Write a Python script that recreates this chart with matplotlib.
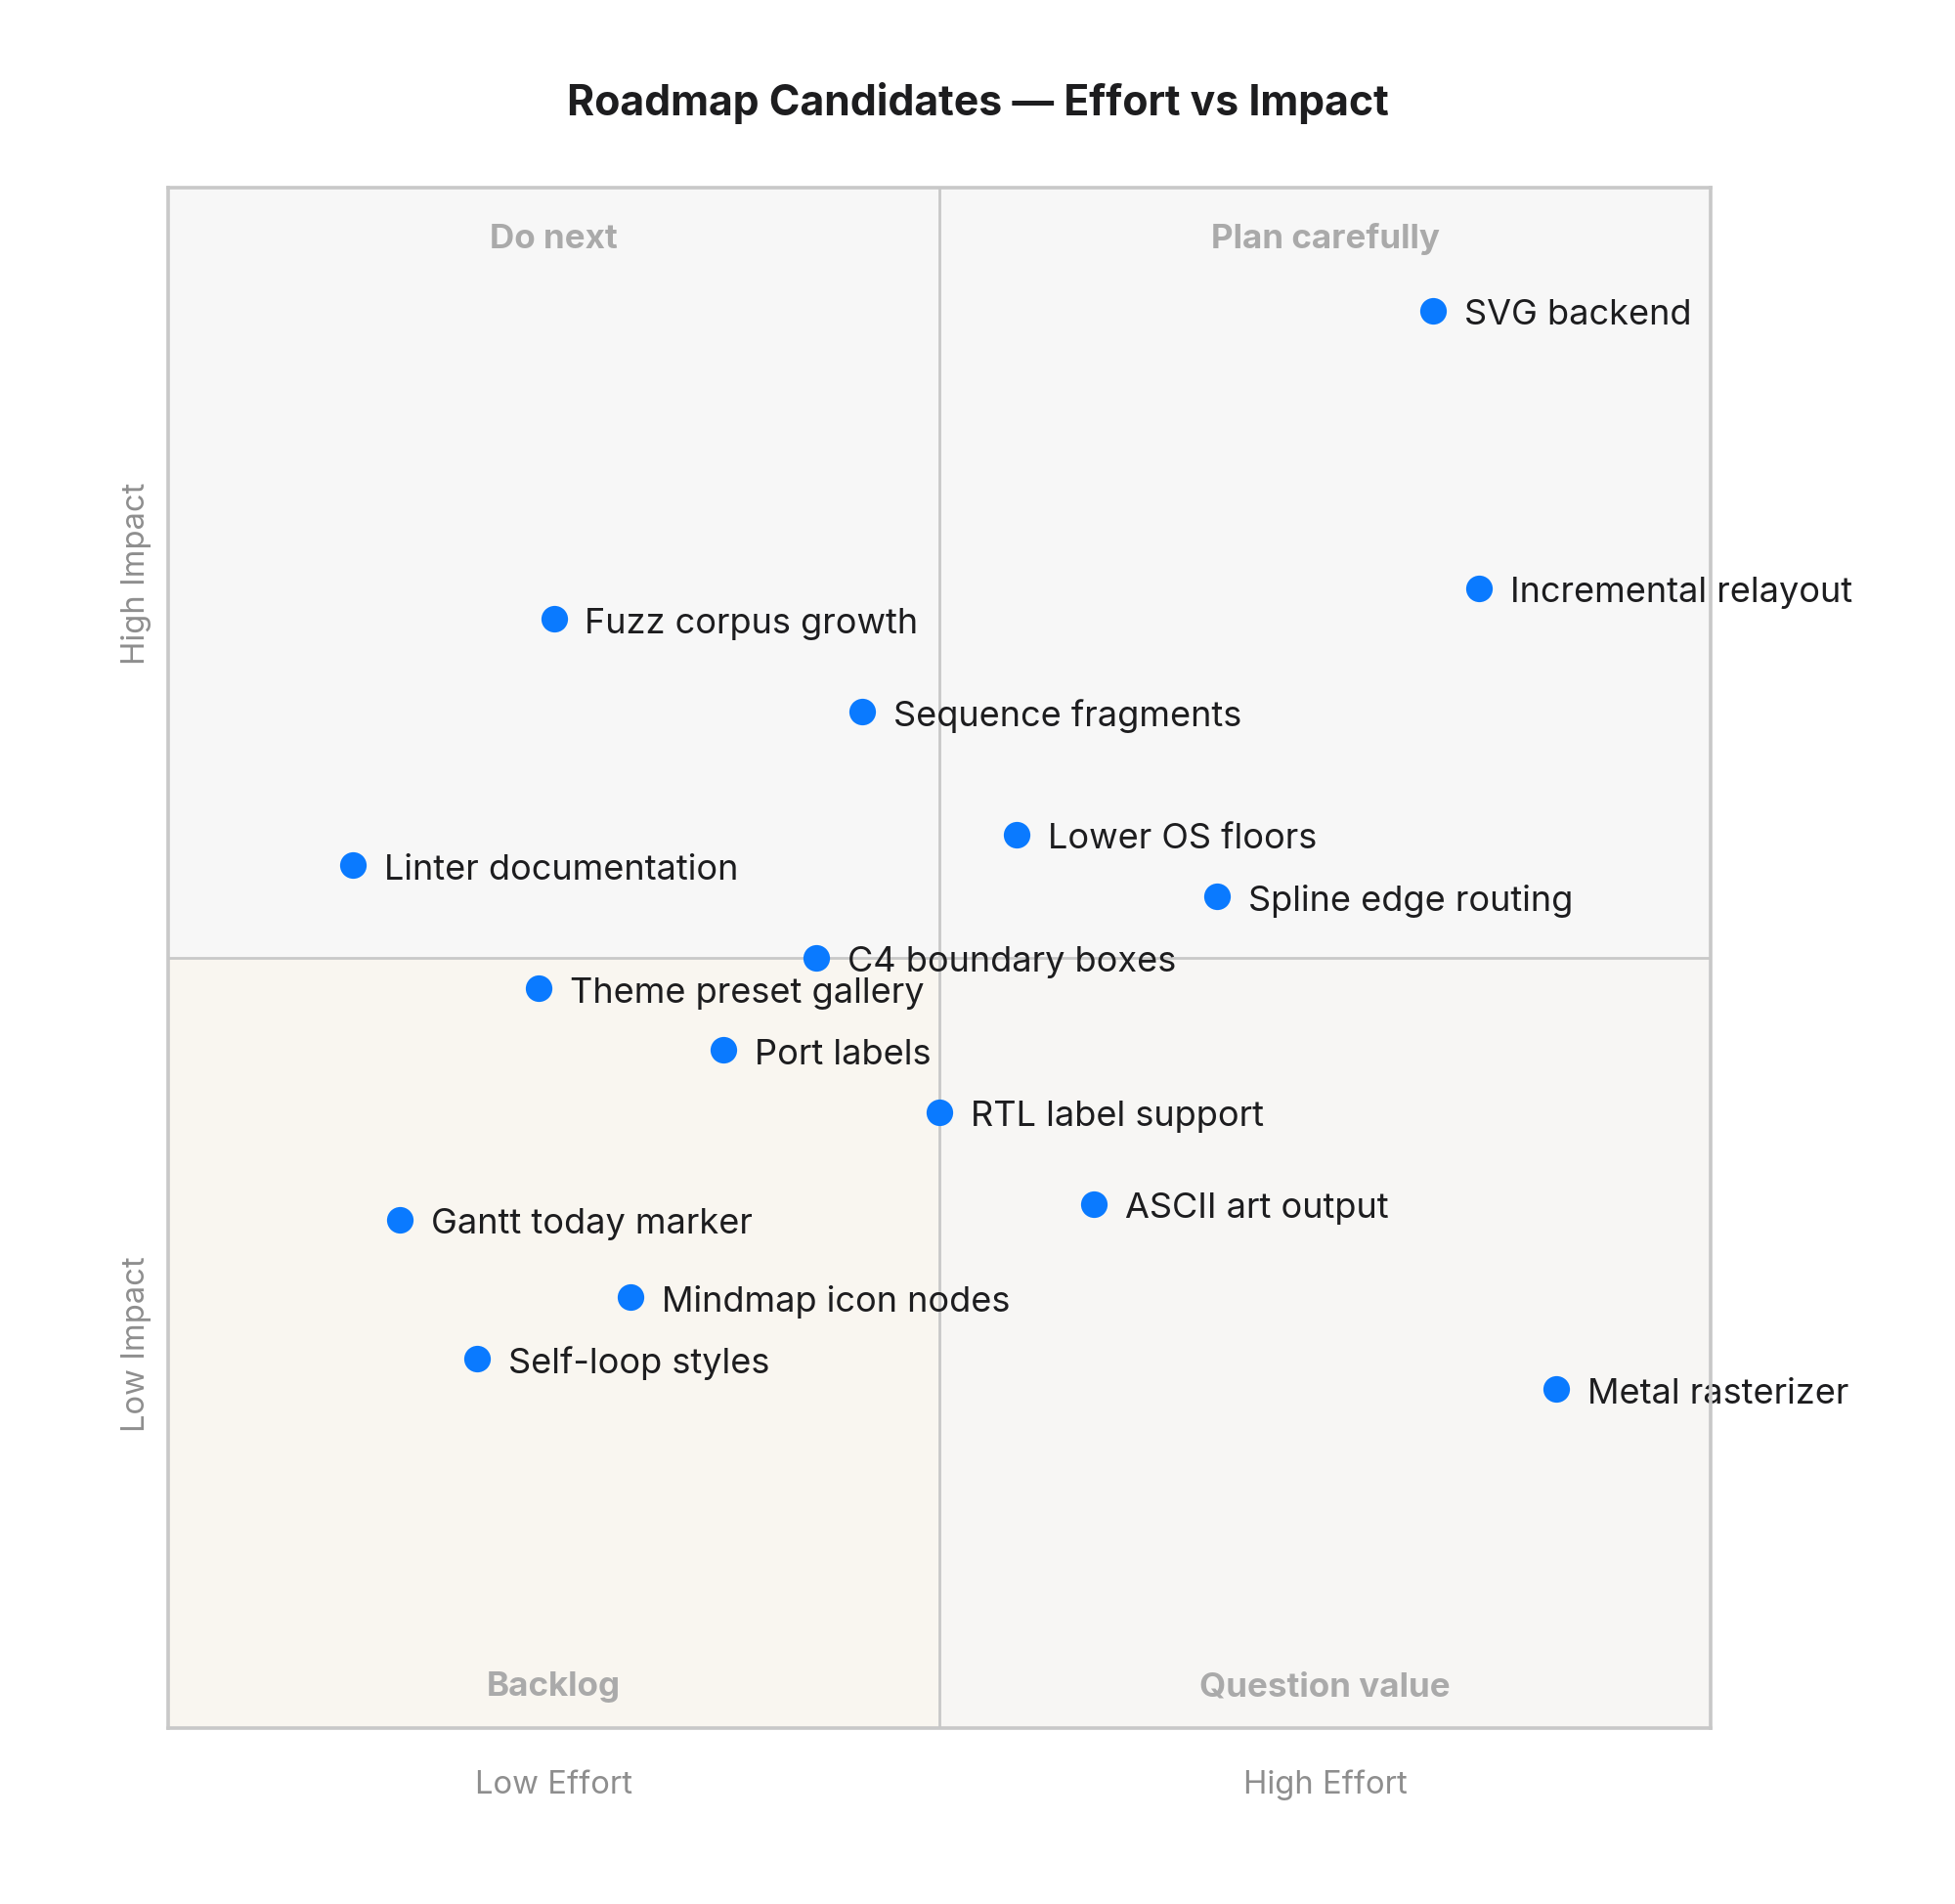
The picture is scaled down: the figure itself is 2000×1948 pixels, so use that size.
import matplotlib
matplotlib.use("Agg")
import matplotlib.pyplot as plt
from matplotlib.patches import Rectangle

names = ["SVG backend", "Incremental relayout", "Fuzz corpus growth", "Sequence fragments",
         "Lower OS floors", "Spline edge routing", "Linter documentation", "C4 boundary boxes",
         "Theme preset gallery", "Port labels", "RTL label support", "ASCII art output",
         "Gantt today marker", "Mindmap icon nodes", "Self-loop styles", "Metal rasterizer"]
effort = [0.82, 0.85, 0.25, 0.45, 0.55, 0.68, 0.12, 0.42, 0.24, 0.36, 0.50, 0.60, 0.15, 0.30, 0.20, 0.90]
impact = [0.92, 0.74, 0.72, 0.66, 0.58, 0.54, 0.56, 0.50, 0.48, 0.44, 0.40, 0.34, 0.33, 0.28, 0.24, 0.22]

quadrant_names = ["Do next", "Plan carefully", "Backlog", "Question value"]
x_labels = ["Low Effort", "High Effort"]
y_labels = ["Low Impact", "High Impact"]
title = "Roadmap Candidates \u2014 Effort vs Impact"

plt.rcParams['font.family'] = ['Inter', 'DejaVu Sans']

fig = plt.figure(figsize=(10, 9.745), dpi=200)
ax = fig.add_axes([0.086, 0.0924, 0.789, 0.8086])
ax.set_xlim(0, 1)
ax.set_ylim(0, 1)

bg = {"Do next": (0, 0.5, "#f7f7f7"), "Plan carefully": (0.5, 0.5, "#f7f7f7"),
      "Backlog": (0, 0, "#f9f6f0"), "Question value": (0.5, 0, "#f7f6f4")}
for q in quadrant_names:
    x0, y0, c = bg[q]
    ax.add_patch(Rectangle((x0, y0), 0.5, 0.5, facecolor=c, edgecolor="none", zorder=0))

label_pos = {"Do next": (0.25, 0.967), "Plan carefully": (0.75, 0.967),
             "Backlog": (0.25, 0.027), "Question value": (0.75, 0.027)}
for q in quadrant_names:
    x, y = label_pos[q]
    ax.text(x, y, q, ha="center", va="center", fontsize=12.6, fontweight="bold", color="#aaaaaa", zorder=1)

ax.axhline(0.5, color="#c8c8c8", lw=1.0, zorder=1)
ax.axvline(0.5, color="#c8c8c8", lw=1.0, zorder=1)

ax.scatter(effort, impact, s=96, color="#0A7AFF", zorder=4, linewidths=0)
for n, x, y in zip(names, effort, impact):
    ax.annotate(n, (x, y), xytext=(11.5, -1.4), textcoords="offset points", ha="left", va="center",
                fontsize=13, color="#1d1d1f", zorder=3, annotation_clip=False)

for s in ax.spines.values():
    s.set_color("#c8c8c8")
    s.set_linewidth(1.3)
    s.set_zorder(5)
ax.set_xticks([])
ax.set_yticks([])

for i, t in enumerate(x_labels):
    ax.text(0.25 + 0.5 * i, -0.0365, t, transform=ax.transAxes, ha="center", va="center",
            fontsize=11.8, color="#8e8e8e")
for i, t in enumerate(y_labels):
    ax.text(-0.0205, 0.25 + 0.5 * i, t, transform=ax.transAxes, ha="center", va="center",
            fontsize=11.8, color="#8e8e8e", rotation=90)

fig.text(0.5, 0.946, title, ha="center", va="center", fontsize=15.4, fontweight="bold", color="#1d1d1f")

fig.savefig("out.png", dpi=200, facecolor="white")
